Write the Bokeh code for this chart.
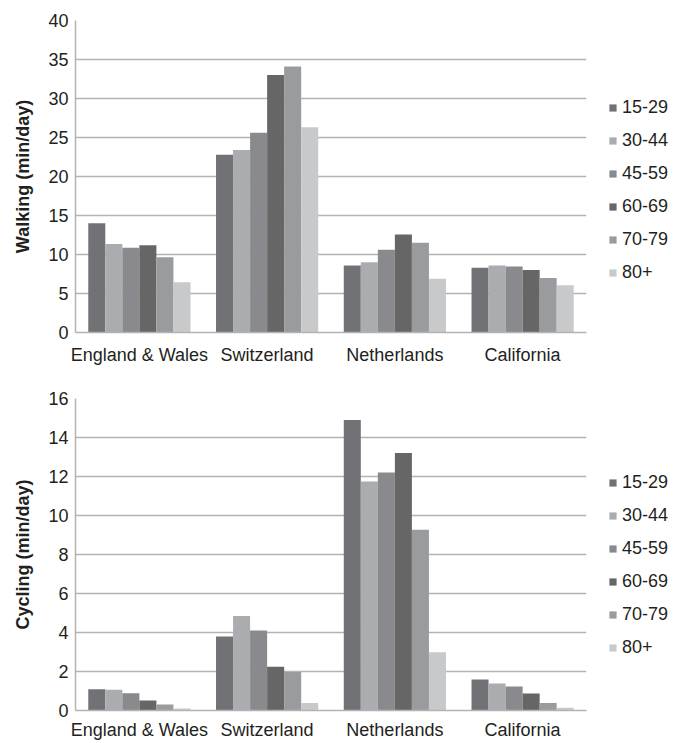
from bokeh.plotting import figure
from bokeh.models import FactorRange, Range1d, Legend, LegendItem, FixedTicker, ColumnDataSource
from bokeh.transform import dodge
from bokeh.layouts import column
from bokeh.embed import file_html
from bokeh.resources import INLINE

countries = ["England & Wales", "Switzerland", "Netherlands", "California"]
age_groups = ["15-29", "30-44", "45-59", "60-69", "70-79", "80+"]

# Walking (min/day), one list per age group, ordered by country
walk_15_29 = [14.0, 22.8, 8.6, 8.3]
walk_30_44 = [11.35, 23.4, 9.0, 8.6]
walk_45_59 = [10.85, 25.6, 10.6, 8.45]
walk_60_69 = [11.2, 33.0, 12.55, 8.0]
walk_70_79 = [9.65, 34.1, 11.5, 7.0]
walk_80_plus = [6.45, 26.3, 6.9, 6.05]

# Cycling (min/day)
cyc_15_29 = [1.09, 3.8, 14.9, 1.59]
cyc_30_44 = [1.06, 4.85, 11.75, 1.38]
cyc_45_59 = [0.89, 4.1, 12.2, 1.23]
cyc_60_69 = [0.51, 2.24, 13.2, 0.87]
cyc_70_79 = [0.31, 1.98, 9.27, 0.39]
cyc_80_plus = [0.1, 0.39, 2.99, 0.14]

walk_ticks = [0, 5, 10, 15, 20, 25, 30, 35, 40]
cyc_ticks = [0, 2, 4, 6, 8, 10, 12, 14, 16]

colors = ["#717276", "#abacaf", "#898a8e", "#666667", "#9a9b9e", "#c8c9cb"]
GRID = "#b3b3b3"
TEXT = "#231f20"
FONT = "Liberation Sans"


def make_fig(ylabel, series, ticks, legend_y, top_border, bottom_border, x_standoff):
    p = figure(x_range=FactorRange(*countries), y_range=Range1d(0, ticks[-1]),
               frame_width=511, frame_height=312,
               min_border_left=75, min_border_right=87,
               min_border_top=top_border, min_border_bottom=bottom_border,
               output_backend="svg", toolbar_location=None)
    data = {"country": countries}
    for i, s in enumerate(series):
        data["s%d" % i] = s
    src = ColumnDataSource(data)
    w = 0.8 / 6
    items = []
    for i, age in enumerate(age_groups):
        off = (i - 2.5) * w
        r = p.vbar(x=dodge("country", off, range=p.x_range), top="s%d" % i, width=w,
                   source=src, fill_color=colors[i], line_color=None)
        items.append(LegendItem(label=age, renderers=[r]))
    legend = Legend(items=items, location=(22, legend_y), glyph_width=9, glyph_height=9,
                    label_height=21, spacing=12, padding=0, margin=0, label_standoff=5,
                    label_text_font_size="18px", label_text_font=FONT, label_text_color=TEXT,
                    border_line_color=None, background_fill_alpha=0)
    p.add_layout(legend, "right")

    p.outline_line_color = None
    p.xgrid.grid_line_color = None
    p.ygrid.grid_line_color = GRID
    p.ygrid.grid_line_width = 1.5
    p.yaxis.ticker = FixedTicker(ticks=ticks)
    for ax in (p.xaxis[0], p.yaxis[0]):
        ax.axis_line_color = GRID
        ax.axis_line_width = 1.5
        ax.major_tick_line_color = None
        ax.minor_tick_line_color = None
        ax.major_tick_out = 0
        ax.major_tick_in = 0
        ax.major_label_text_font = FONT
        ax.major_label_text_color = TEXT
    p.yaxis.major_label_text_font_size = "18px"
    p.xaxis.major_label_text_font_size = "18px"
    p.yaxis.major_label_standoff = 7
    p.xaxis.major_label_standoff = x_standoff
    p.yaxis.axis_label = ylabel
    p.yaxis.axis_label_text_font = FONT
    p.yaxis.axis_label_text_font_style = "bold"
    p.yaxis.axis_label_text_font_size = "18px"
    p.yaxis.axis_label_text_color = TEXT
    p.yaxis.axis_label_standoff = 12
    return p


p1 = make_fig("Walking (min/day)",
              [walk_15_29, walk_30_44, walk_45_59, walk_60_69, walk_70_79, walk_80_plus],
              walk_ticks, 49, 20, 33, 12)
p2 = make_fig("Cycling (min/day)",
              [cyc_15_29, cyc_30_44, cyc_45_59, cyc_60_69, cyc_70_79, cyc_80_plus],
              cyc_ticks, 52, 31, 30, 9)

layout = column(p1, p2, spacing=0)
open("out.html", "w").write(file_html(layout, INLINE))
